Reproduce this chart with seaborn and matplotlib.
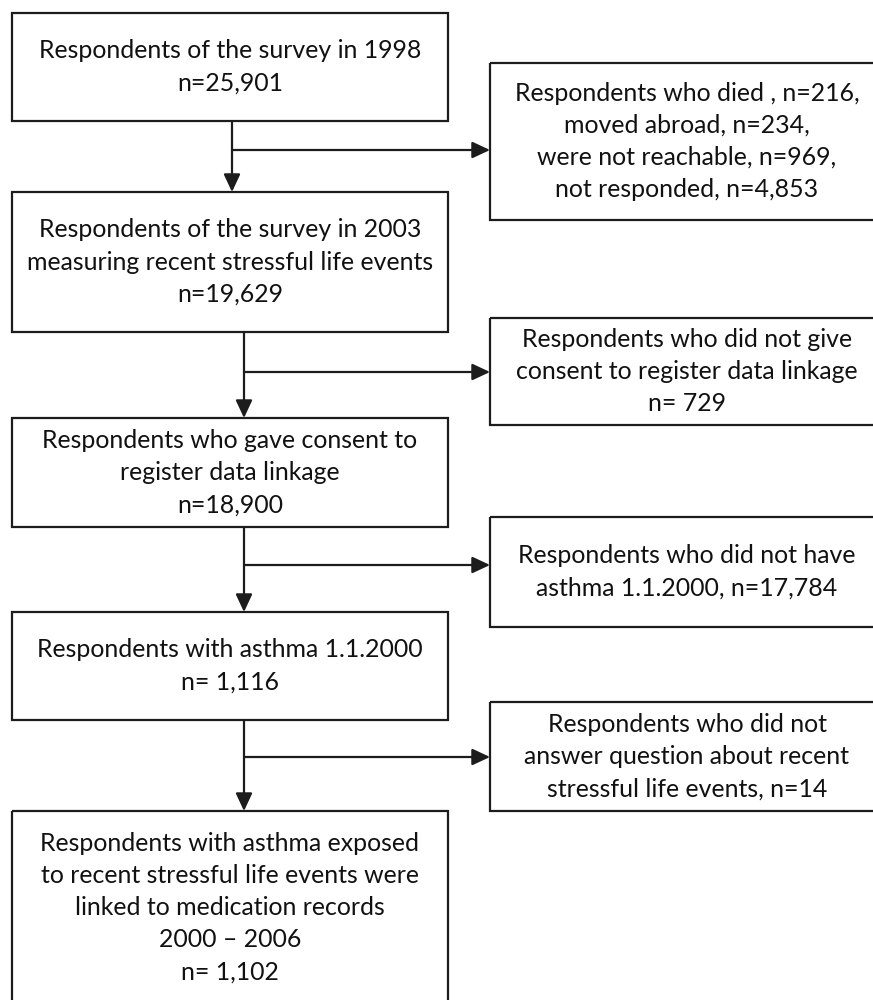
import matplotlib
matplotlib.use("Agg")
import matplotlib.pyplot as plt
from matplotlib.patches import Rectangle
import seaborn as sns

# ---- content (data) ----
main_steps = [
    "Respondents of the survey in 1998\nn=25,901",
    "Respondents of the survey in 2003\nmeasuring recent stressful life events\nn=19,629",
    "Respondents who gave consent to\nregister data linkage\nn=18,900",
    "Respondents with asthma 1.1.2000\nn= 1,116",
    "Respondents with asthma exposed\nto recent stressful life events were\nlinked to medication records\n2000 \u2013 2006\nn= 1,102",
]
excluded_steps = [
    "Respondents who died , n=216,\nmoved abroad, n=234,\nwere not reachable, n=969,\nnot responded, n=4,853",
    "Respondents who did not give\nconsent to register data linkage\nn= 729",
    "Respondents who did not have\nasthma 1.1.2000, n=17,784",
    "Respondents who did not\nanswer question about recent\nstressful life events, n=14",
]

# ---- layout (pixel coordinates, figure 873x1000) ----
W, H = 873, 1000
left_x = (12, 448)
left_y = [(13, 121), (192, 332), (418, 527), (612, 720), (811, 1004)]
right_x = (490, 884)
right_y = [(63, 220), (318, 425), (517, 627), (702, 811)]
stem_x = [232, 244, 244, 244]
branch_y = [150, 372, 565, 757]

sns.set_theme(style="white")
plt.rcParams['font.family'] = ['Lato', 'DejaVu Sans']

fig = plt.figure(figsize=(W / 100, H / 100), dpi=100)
ax = fig.add_axes([0, 0, 1, 1])
ax.set_xlim(0, W)
ax.set_ylim(H, 0)
ax.axis("off")

EC = "#1c1c1c"
LW = 1.6
FS = 17.9
LS = 1.48

def box(x0, x1, y0, y1, text):
    ax.add_patch(Rectangle((x0, y0), x1 - x0, y1 - y0, fill=False,
                           edgecolor=EC, linewidth=LW, clip_on=False))
    ax.text((x0 + x1) / 2, (y0 + y1) / 2, text, ha="center", va="center",
            multialignment="center", fontsize=FS, linespacing=LS,
            color="#111111")

for txt, (y0, y1) in zip(main_steps, left_y):
    box(left_x[0], left_x[1], y0, y1, txt)
for txt, (y0, y1) in zip(excluded_steps, right_y):
    box(right_x[0], right_x[1], y0, y1, txt)

arrow = dict(arrowstyle="-|>,head_length=0.9,head_width=0.42",
             color=EC, lw=LW, shrinkA=0, shrinkB=0)
for i in range(4):
    sx = stem_x[i]
    # vertical arrow to next main box
    ax.annotate("", xy=(sx, left_y[i + 1][0]), xytext=(sx, left_y[i][1]),
                arrowprops=arrow)
    # horizontal branch to excluded box
    ax.annotate("", xy=(right_x[0], branch_y[i]), xytext=(sx, branch_y[i]),
                arrowprops=arrow)

fig.savefig("out.png", dpi=100, facecolor="white")
